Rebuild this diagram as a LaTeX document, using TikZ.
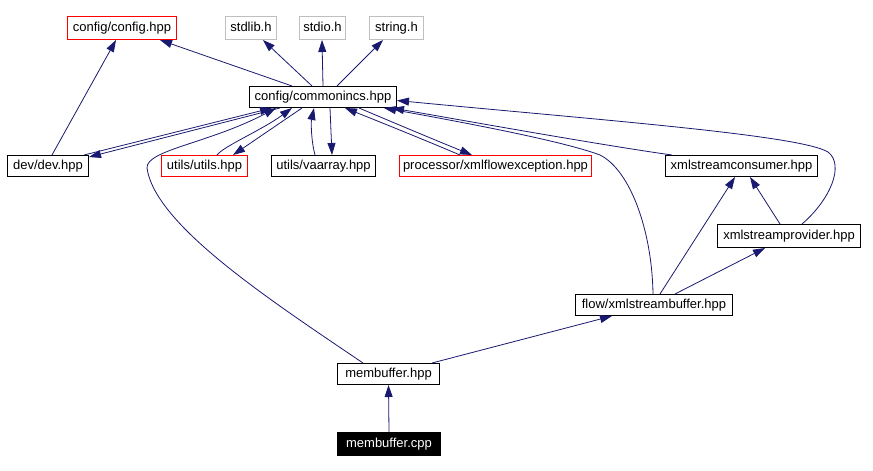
\documentclass[tikz,border=0pt]{standalone}
\usepackage{fontspec}
\setmainfont{Liberation Sans}
\usetikzlibrary{arrows.meta}
\definecolor{edgec}{HTML}{191970}
\definecolor{grayb}{HTML}{BFBFBF}
\begin{document}
\begin{tikzpicture}[x=1pt,y=-1pt,
  box/.style={draw=black,line width=1pt,inner sep=0pt,anchor=north west,
    font=\fontsize{13}{15}\selectfont,text height=9.5pt,text depth=2.5pt},
  redbox/.style={box,draw=red},
  graybox/.style={box,draw=grayb},
  darkbox/.style={box,fill=black,text=white},
  dep/.style={draw=edgec,line width=0.8pt,-{Triangle[length=12pt,width=8pt]},fill=none}]
\useasboundingbox[fill=white] (0,0) rectangle (873,471);
% nodes
\node[redbox,minimum width=109pt,minimum height=23pt] (config) at (67,16) {config/config.hpp};
\node[graybox,minimum width=51pt,minimum height=23pt] (stdlib) at (225,16) {stdlib.h};
\node[graybox,minimum width=46pt,minimum height=23pt] (stdio) at (299,16) {stdio.h};
\node[graybox,minimum width=54pt,minimum height=23pt] (string) at (369,16) {string.h};
\node[box,minimum width=147pt,minimum height=21pt] (commonincs) at (249,86) {config/commonincs.hpp};
\node[box,minimum width=81pt,minimum height=21pt] (dev) at (7,155) {dev/dev.hpp};
\node[redbox,minimum width=86pt,minimum height=21pt] (utils) at (161,155) {utils/utils.hpp};
\node[box,minimum width=104pt,minimum height=21pt] (vaarray) at (271,155) {utils/vaarray.hpp};
\node[redbox,minimum width=192pt,minimum height=21pt] (xmlflow) at (399,155) {processor/xmlflowexception.hpp};
\node[box,minimum width=152pt,minimum height=21pt] (consumer) at (665,155) {xmlstreamconsumer.hpp};
\node[box,minimum width=143pt,minimum height=23pt] (provider) at (717,224) {xmlstreamprovider.hpp};
\node[box,minimum width=157pt,minimum height=21pt] (buffer) at (575,294) {flow/xmlstreambuffer.hpp};
\node[box,minimum width=102pt,minimum height=21pt] (memhpp) at (337,363) {membuffer.hpp};
\node[darkbox,minimum width=103pt,minimum height=23pt] (memcpp) at (337,432) {membuffer.cpp};
% edges
\draw[dep] ([xshift=43pt]commonincs.north west) -- ([xshift=93pt]config.south west);
\draw[dep] ([xshift=63pt]commonincs.north west) -- ([xshift=38pt]stdlib.south west);
\draw[dep] ([xshift=74pt]commonincs.north west) -- ([xshift=23pt]stdio.south west);
\draw[dep] ([xshift=88pt]commonincs.north west) -- ([xshift=14pt]string.south west);
\draw[dep] ([xshift=45pt]dev.north west) -- ([xshift=49pt]config.south west);
\draw[dep] ([xshift=77pt]dev.north west) -- ([xshift=23pt]commonincs.south west);
\draw[dep] ([xshift=31pt]commonincs.south west) -- ([yshift=-2pt]dev.north east);
\draw[dep] ([xshift=26pt]memhpp.north west) .. controls (270,300) and (155,225) .. (147,168)
  .. controls (146,150) and (210,143) .. ([xshift=27pt]commonincs.south west);
\draw[dep] ([xshift=56pt]utils.north west) .. controls (224,146) and (262,130) .. ([xshift=43pt]commonincs.south west);
\draw[dep] ([xshift=53pt]commonincs.south west) -- ([xshift=72pt]utils.north west);
\draw[dep] ([xshift=44pt]vaarray.north west) .. controls (311,140) and (311,122) .. ([xshift=65pt]commonincs.south west);
\draw[dep] ([xshift=81pt]commonincs.south west) -- ([xshift=61pt]vaarray.north west);
\draw[dep] ([xshift=61pt]xmlflow.north west) .. controls (420,138) and (370,118) .. ([xshift=96pt]commonincs.south west);
\draw[dep] ([xshift=110pt]commonincs.south west) .. controls (385,119) and (430,138) .. ([xshift=73pt]xmlflow.north west);
\draw[dep] ([xshift=7pt]consumer.north west) .. controls (600,145) and (450,118) .. ([xshift=143pt]commonincs.south west);
\draw[dep] ([xshift=78pt]buffer.north west) .. controls (652,230) and (630,170) .. (600,155)
  .. controls (560,140) and (450,120) .. ([xshift=135pt]commonincs.south west);
\draw[dep] ([xshift=85pt]provider.north west) .. controls (830,200) and (845,165) .. (828,152)
  .. controls (800,135) and (600,120) .. ([yshift=-3.5pt]commonincs.east);
\draw[dep] ([xshift=85pt]buffer.north west) -- ([xshift=70pt]consumer.south west);
\draw[dep] ([xshift=100pt]buffer.north west) -- ([xshift=48pt]provider.south west);
\draw[dep] ([xshift=63pt]provider.north west) -- ([xshift=85pt]consumer.south west);
\draw[dep] ([xshift=95pt]memhpp.north west) -- ([xshift=37pt]buffer.south west);
\draw[dep] (memcpp.north) -- (memhpp.south);
\end{tikzpicture}
\end{document}
